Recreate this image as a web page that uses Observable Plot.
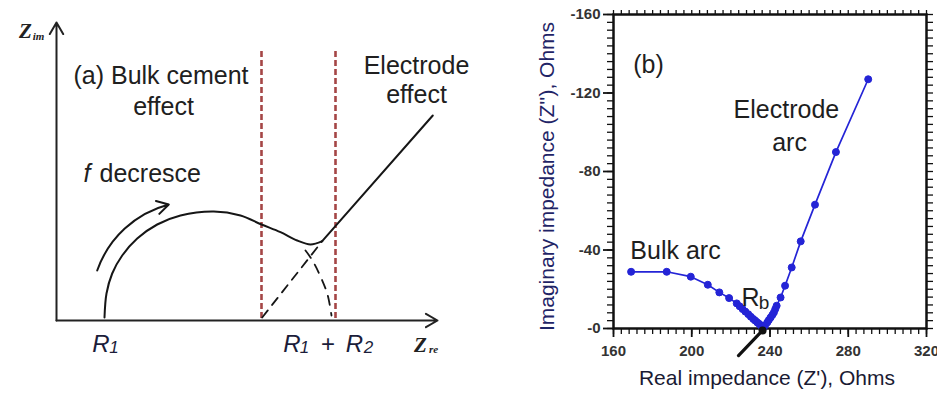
<!DOCTYPE html>
<html><head><meta charset="utf-8">
<script src="https://cdn.jsdelivr.net/npm/d3@7"></script>
<script src="https://cdn.jsdelivr.net/npm/@observablehq/plot@0.6"></script>
<style>
html,body{margin:0;padding:0;background:#fff;}
#wrap{position:relative;width:937px;height:396px;overflow:hidden;font-family:Arial,"Liberation Sans",sans-serif;}
#a{position:absolute;left:0;top:0;}
#b{position:absolute;left:520px;top:0;}
</style></head>
<body><div id="wrap"><div id="a"></div><div id="b"></div></div>
<script>
// ---------- Panel (a): schematic Nyquist plot (arbitrary units Z_re, Z_im) ----------
const bulkArc = [[48,3],[50,27],[55.7,47],[65.7,65],[80.7,82],[100.7,96],[124,105],[157.3,109],[184,105],[205,96],[224,88.3],[240.7,80],[254,76],[265.7,79.3]];
const electrodeLine = [[265.7,79.3],[376.3,205]];
const extrapolatedLine = [[205.7,3],[265.7,79.3]];
const extrapolatedArc = [[249,70],[256,60],[264,44],[271,26],[275,5]];
const boundaryX = [205, 279];
const boundaryY = [2, 270];
const axesA = [{x1:0,y1:0,x2:0,y2:298},{x1:0,y1:0,x2:381,y2:0}];
const freqArrow = [{x1:40.7,y1:50,x2:112.3,y2:116}];
const labelsA = [
  {text:"(a) Bulk cement", x:104.5, y:245},
  {text:"effect", x:107, y:214},
  {text:"Electrode", x:360, y:255},
  {text:"effect", x:360, y:226}
];
const rLetters = [{t:"R",x:44.5},{t:"R",x:235.5},{t:"R",x:298}];
const plusSign = [{t:"+",x:271.5}];
const rSub = [{t:"1",x:57.5},{t:"1",x:248},{t:"2",x:312}];
const zMain = [{t:"Z",x:-31,y:289},{t:"Z",x:364,y:-25}];
const zSub = [{t:"im",x:-18,y:284},{t:"re",x:377,y:-29}];

const XY = {x: d => d[0], y: d => d[1]};
const ink = "#161616";
const rInk = "#1b1d3a";

const pa = Plot.plot({
  width: 500, height: 396, margin: 0,
  style: {background: "transparent", fontFamily: "Arial, 'Liberation Sans', sans-serif"},
  x: {domain: [-56, 444], range: [0, 500], axis: null},
  y: {domain: [-76, 320], range: [396, 0], axis: null},
  marks: [
    Plot.ruleX(boundaryX, {x: d => d, y1: boundaryY[0], y2: boundaryY[1], stroke: "#a54646", strokeWidth: 2.6, strokeDasharray: "6,3"}),
    Plot.line(bulkArc, {...XY, curve: "catmull-rom", stroke: ink, strokeWidth: 2}),
    Plot.line(electrodeLine, {...XY, stroke: ink, strokeWidth: 2}),
    Plot.line(extrapolatedLine, {...XY, stroke: ink, strokeWidth: 1.8, strokeDasharray: "9,7"}),
    Plot.line(extrapolatedArc, {...XY, curve: "catmull-rom", stroke: ink, strokeWidth: 1.8, strokeDasharray: "9,8"}),
    Plot.arrow(axesA, {x1: "x1", y1: "y1", x2: "x2", y2: "y2", stroke: "#222", strokeWidth: 2, headLength: 10}),
    Plot.arrow(freqArrow, {x1: "x1", y1: "y1", x2: "x2", y2: "y2", bend: 28, stroke: ink, strokeWidth: 2, headLength: 10}),
    Plot.text(labelsA, {x: "x", y: "y", text: "text", fontSize: 25, fill: "#202020"}),
    Plot.text(["f"], {x: () => 27, y: () => 147, textAnchor: "start", fontSize: 25, fontStyle: "italic", fill: "#202020"}),
    Plot.text(["decresce"], {x: () => 43, y: () => 147, textAnchor: "start", fontSize: 25, fill: "#202020"}),
    Plot.text(rLetters, {x: "x", y: () => -24, text: "t", fontSize: 24, fontStyle: "italic", fill: rInk}),
    Plot.text(plusSign, {x: "x", y: () => -24, text: "t", fontSize: 24, fill: rInk}),
    Plot.text(rSub, {x: "x", y: () => -27, text: "t", fontSize: 17, fontStyle: "italic", fill: rInk}),
    Plot.text(zMain, {x: "x", y: "y", text: "t", fontSize: 21, fontWeight: "bold", fontStyle: "italic", fontFamily: "'Liberation Serif', serif", fill: "#222"}),
    Plot.text(zSub, {x: "x", y: "y", text: "t", fontSize: 11, fontWeight: "bold", fontStyle: "italic", fontFamily: "'Liberation Serif', serif", fill: "#222"})
  ]
});
document.getElementById("a").appendChild(pa);

// ---------- Panel (b): measured Nyquist plot ----------
const realZ = [169.0,187.2,199.5,208.2,214.1,219.1,223.0,224.5,226.0,227.4,228.9,230.2,231.5,232.5,233.5,234.4,235.2,235.9,236.6,237.5,238.6,239.4,240.3,241.2,242.0,242.7,243.4,245.4,247.7,251.1,255.7,263.0,273.7,290.2];
const imagZ = [-28.9,-28.9,-26.4,-22.3,-18.4,-15.5,-12.8,-11.3,-9.9,-8.6,-7.3,-6.0,-4.8,-4.0,-3.1,-2.4,-1.7,-1.0,-0.5,-1.6,-3.1,-4.3,-5.6,-6.9,-8.2,-9.9,-11.6,-15.8,-21.8,-31.1,-44.4,-63.1,-89.9,-127.0];
const xMajor = [160, 200, 240, 280, 320];
const yMajor = [-160, -120, -80, -40, 0];
const xMinor = d3.range(160, 321, 4);
const yMinor = d3.range(-160, 1, 4);
const rbPointerX = [223.9, 236.2];
const rbPointerY = [13.8, 1.0];
const labelsB = [
  {text:"(b)", x:177.9, y:-134.5},
  {text:"Electrode", x:248.4, y:-111.1},
  {text:"arc", x:250, y:-94.3},
  {text:"Bulk arc", x:191.7, y:-39.7},
  {text:"R", x:230.0, y:-15.3}
];
const rbSub = [{text:"b", x:237.0, y:-13.0}];

const pts = realZ.map((x, i) => ({x, y: imagZ[i]}));
const pointer = rbPointerX.map((x, i) => ({x, y: rbPointerY[i]}));
const blue = "#2424d6";
const blank = () => "";

const pb = Plot.plot({
  width: 417, height: 396,
  marginLeft: 93, marginRight: 11, marginTop: 14, marginBottom: 68,
  style: {background: "transparent", fontFamily: "Arial, 'Liberation Sans', sans-serif"},
  x: {domain: [160, 320]},
  y: {domain: [0, -160]},
  marks: [
    Plot.axisX(xMinor, {anchor: "bottom", tickSize: 6, tickFormat: blank, stroke: "#111", strokeWidth: 1.3, label: null}),
    Plot.axisX(xMinor, {anchor: "top", tickSize: 5, tickFormat: blank, stroke: "#111", strokeWidth: 1.3, label: null}),
    Plot.axisY(yMinor, {anchor: "left", tickSize: 6, tickFormat: blank, stroke: "#111", strokeWidth: 1.3, label: null}),
    Plot.axisY(yMinor, {anchor: "right", tickSize: 6, tickFormat: blank, stroke: "#111", strokeWidth: 1.3, label: null}),
    Plot.axisX(xMajor, {anchor: "bottom", tickSize: 9, tickPadding: 8, fontSize: 15, fontWeight: "bold", color: "#333", stroke: "#111", strokeWidth: 1.8, label: null}),
    Plot.axisY(yMajor, {anchor: "left", tickSize: 10, tickPadding: 3, fontSize: 15, fontWeight: "bold", color: "#333", stroke: "#111", strokeWidth: 1.8, label: null, tickFormat: d => d === 0 ? "-0" : String(d)}),
    Plot.frame({stroke: "#111", strokeWidth: 2.5}),
    Plot.line(pts, {x: "x", y: "y", stroke: blue, strokeWidth: 1.7}),
    Plot.dot(pts, {x: "x", y: "y", r: 3.5, fill: blue, stroke: blue, strokeWidth: 1}),
    Plot.line(pointer, {x: "x", y: "y", stroke: "#111", strokeWidth: 3.2}),
    Plot.dot(pointer.slice(1), {x: "x", y: "y", r: 4, fill: "#111"}),
    Plot.text(labelsB, {x: "x", y: "y", text: "text", fontSize: 25, fill: "#1e1e1e"}),
    Plot.text(rbSub, {x: "x", y: "y", text: "text", fontSize: 19, fill: "#1e1e1e"}),
    Plot.text(["Imaginary impedance (Z''), Ohms"], {frameAnchor: "left", textAnchor: "middle", rotate: -90, dx: -66, dy: 5, fontSize: 21, fill: "#1f2466"}),
    Plot.text(["Real impedance (Z'), Ohms"], {frameAnchor: "bottom", dx: -3, dy: 56, fontSize: 21, fill: "#1a1a33"})
  ]
});
document.getElementById("b").appendChild(pb);
</script>
</body></html>
